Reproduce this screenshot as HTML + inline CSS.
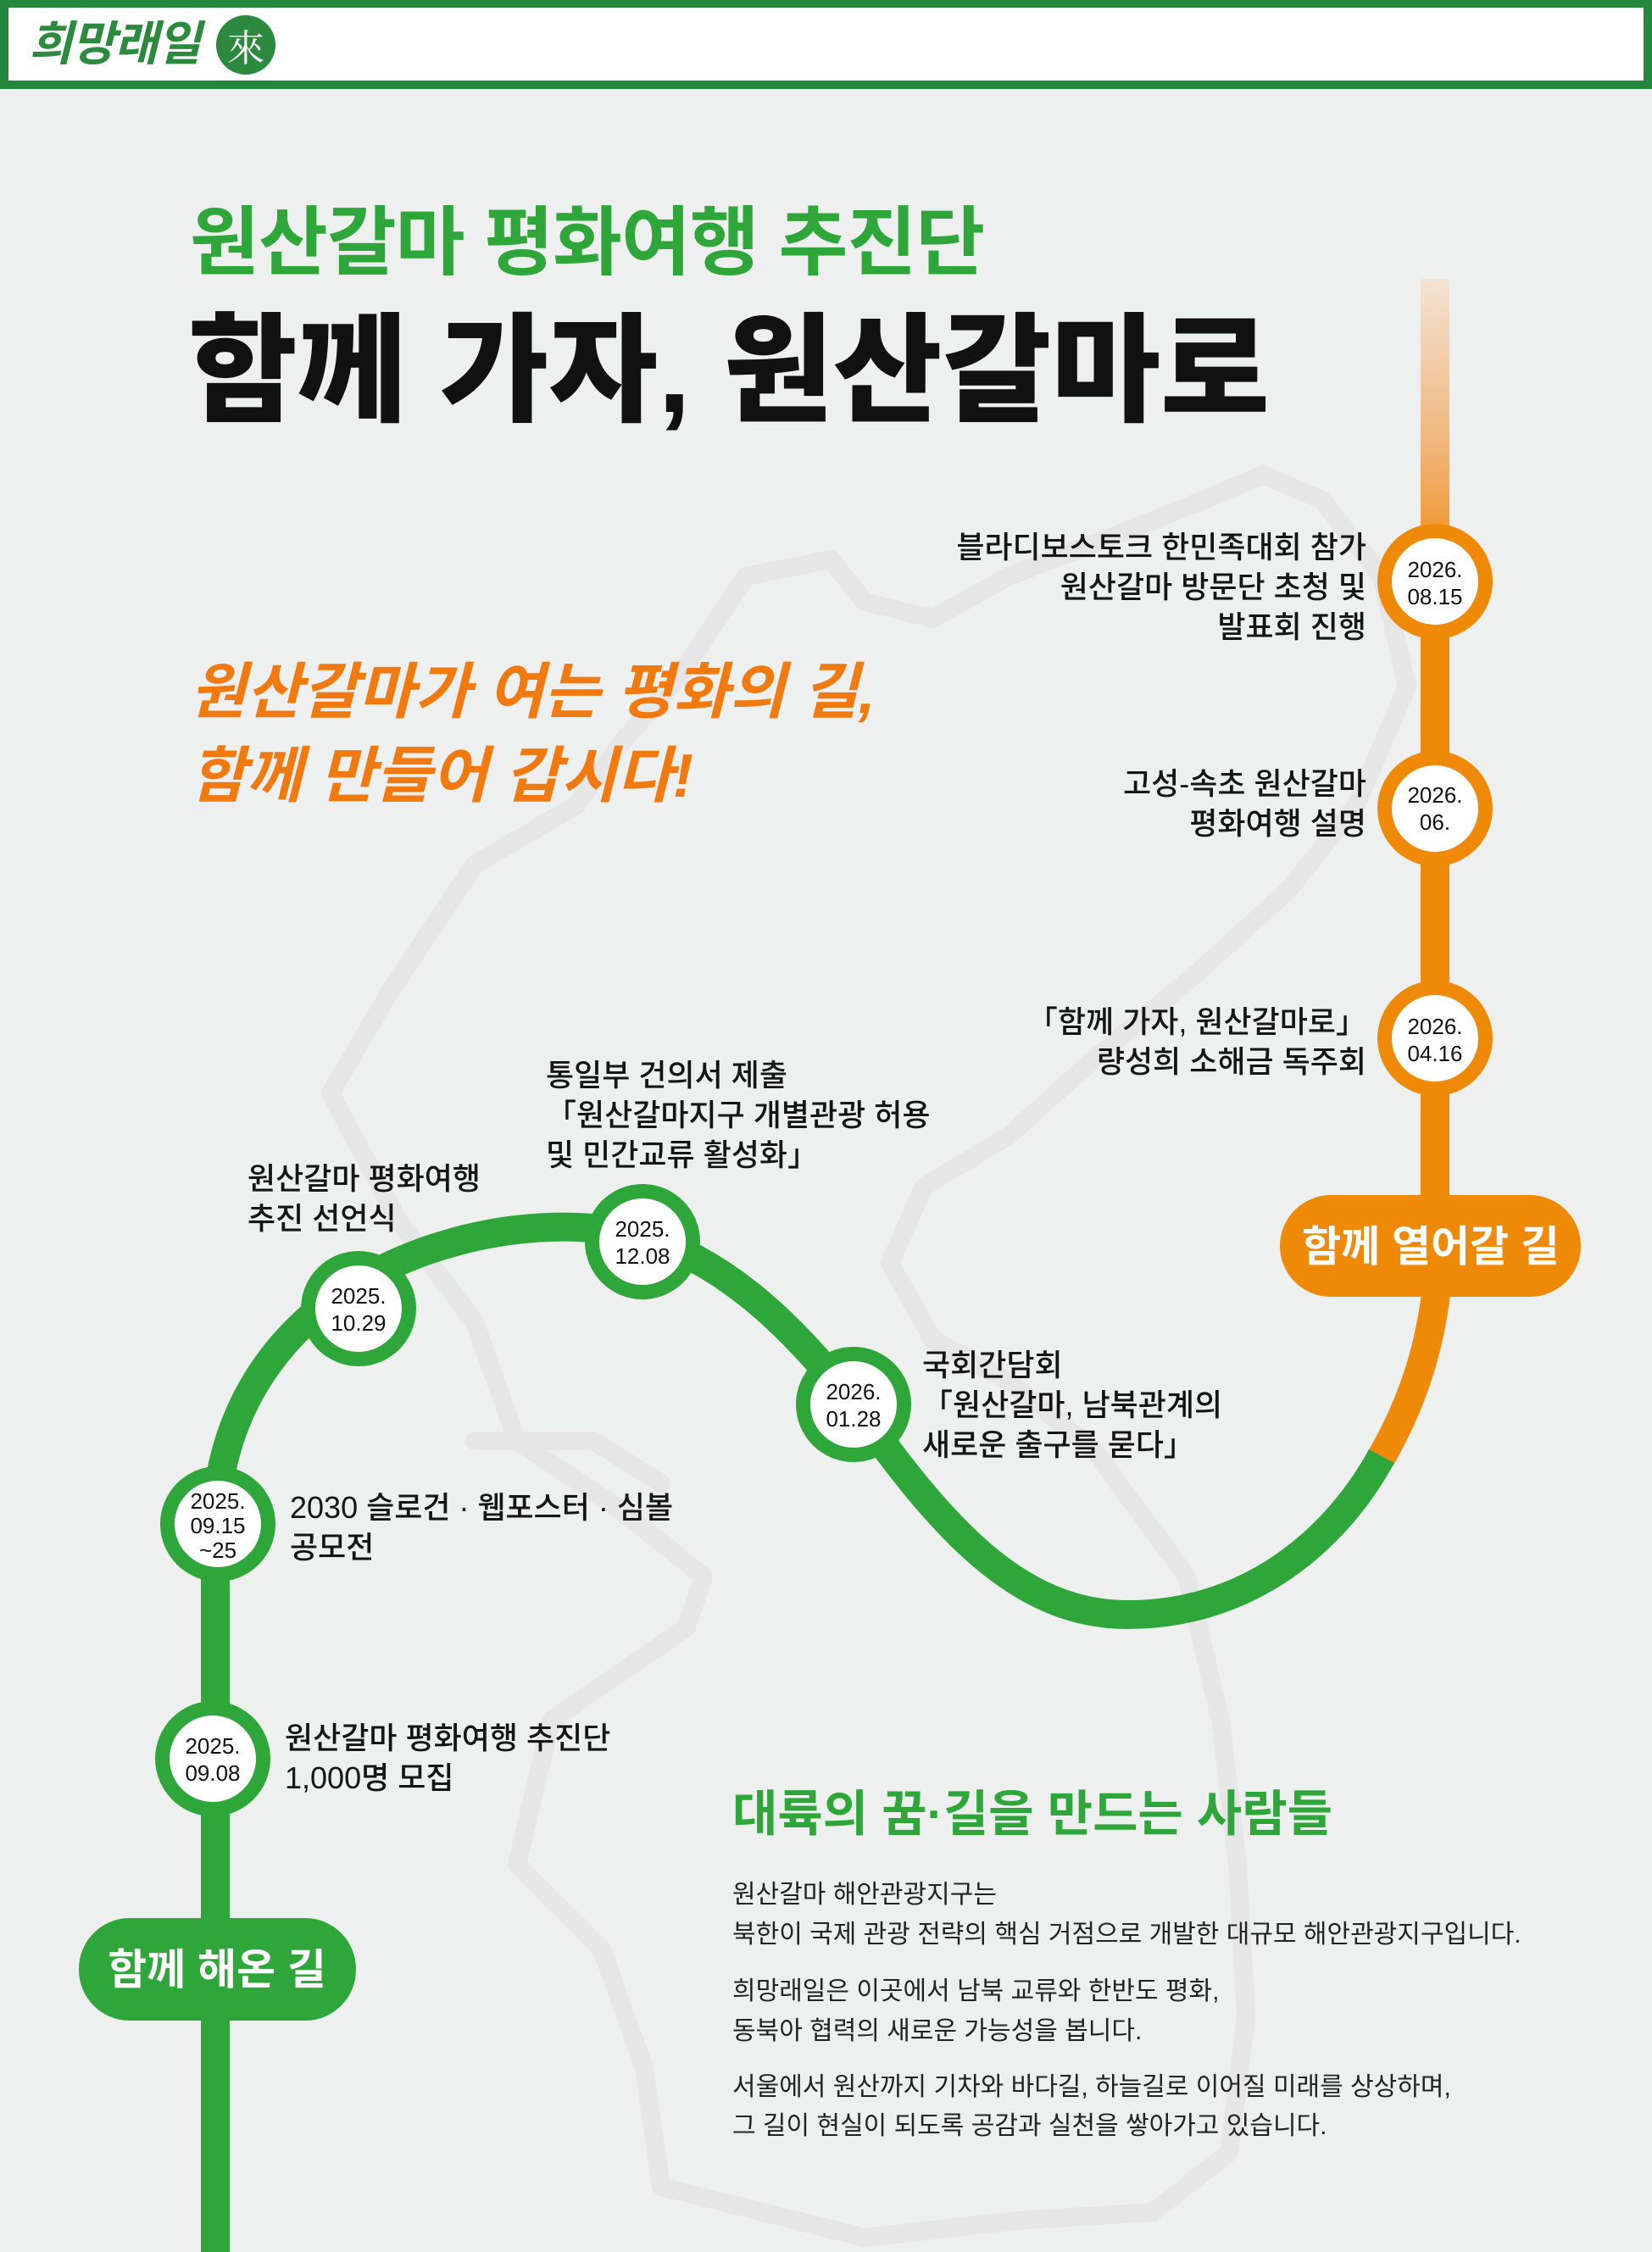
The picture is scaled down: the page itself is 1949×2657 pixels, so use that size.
<!DOCTYPE html>
<html><head><meta charset="utf-8">
<style>
*{margin:0;padding:0;box-sizing:border-box}
body{width:1949px;height:2657px;background:#eef0ef;position:relative;overflow:hidden;font-family:"Liberation Sans","Noto Sans CJK KR",sans-serif;color:#111}
.abs{position:absolute;white-space:nowrap}
.lab{font-size:36px;line-height:47px;font-weight:500;color:#151515}
.r{text-align:right}
</style></head><body>
<svg class="abs" style="left:0;top:0" width="1949" height="2657" viewBox="0 0 1949 2657">
<defs>
<linearGradient id="fade" x1="0" y1="0" x2="0" y2="1">
<stop offset="0" stop-color="#f3e3d4"/>
<stop offset="0.55" stop-color="#f0b57a"/>
<stop offset="1" stop-color="#ef8a09"/>
</linearGradient>
</defs>
<g fill="none" stroke="#e5e6e5" stroke-width="22" stroke-linejoin="round" stroke-linecap="round">
<path d="M390 1290 L460 1170 L560 1020 L680 950 L730 880 L800 800 L880 680 L980 660 L1020 710 L1100 730 L1190 680 L1320 630 L1420 590 L1490 560 L1560 590 L1630 680 L1660 810 L1600 950 L1520 1050 L1410 1150 L1290 1250 L1190 1340 L1090 1400 L1050 1490 L1100 1580 L1190 1630 L1290 1710 L1400 1860 L1440 2030 L1460 2200 L1470 2380 L1450 2540 L1360 2610 L1200 2620 L1020 2640 L860 2600 L780 2580 L760 2440 L710 2300 L610 2200 L650 2030 L810 1920 L830 1860 L730 1780 L610 1700 L560 1560 L470 1440 Z"/>
<path d="M560 1700 L700 1700 L780 1750"/>
</g>
<rect x="1676" y="329" width="34" height="360" fill="url(#fade)"/>
<line x1="1693" y1="680" x2="1693" y2="1480" stroke="#ef8a09" stroke-width="34"/>
<path d="M1697 1500 C1690 1580 1670 1650 1628 1722" fill="none" stroke="#ef8a09" stroke-width="34"/>
<path d="M254 2660 L254 1810 C254 1640 360 1520 520 1470 C600 1445 690 1440 760 1460 C860 1490 940 1570 1010 1660 C1110 1800 1200 1905 1330 1905 C1480 1905 1580 1810 1630 1718" fill="none" stroke="#2ea639" stroke-width="34"/>
<rect x="1510" y="1410" width="355" height="120" rx="60" fill="#ef8a09"/>
<text x="1688" y="1488" text-anchor="middle" font-size="50" font-weight="700" fill="#fff" font-family="Liberation Sans, Noto Sans CJK KR, sans-serif">함께 열어갈 길</text>
<rect x="93" y="2263" width="327" height="121" rx="60" fill="#2ea639"/>
<text x="256" y="2341" text-anchor="middle" font-size="50" font-weight="700" fill="#fff" font-family="Liberation Sans, Noto Sans CJK KR, sans-serif">함께 해온 길</text>
<g font-family="Liberation Sans, Noto Sans CJK KR, sans-serif" font-size="26" fill="#111" text-anchor="middle">
<g><circle cx="1693" cy="686" r="68" fill="#ef8a09"/><circle cx="1693" cy="686" r="51" fill="#fff"/><text x="1693" y="681">2026.</text><text x="1693" y="713">08.15</text></g>
<g><circle cx="1693" cy="954" r="68" fill="#ef8a09"/><circle cx="1693" cy="954" r="51" fill="#fff"/><text x="1693" y="947">2026.</text><text x="1693" y="979">06.</text></g>
<g><circle cx="1693" cy="1225" r="68" fill="#ef8a09"/><circle cx="1693" cy="1225" r="51" fill="#fff"/><text x="1693" y="1220">2026.</text><text x="1693" y="1252">04.16</text></g>
<g><circle cx="1007" cy="1657" r="68" fill="#2ea639"/><circle cx="1007" cy="1657" r="51" fill="#fff"/><text x="1007" y="1651">2026.</text><text x="1007" y="1683">01.28</text></g>
<g><circle cx="758" cy="1465" r="68" fill="#2ea639"/><circle cx="758" cy="1465" r="51" fill="#fff"/><text x="758" y="1459">2025.</text><text x="758" y="1491">12.08</text></g>
<g><circle cx="423" cy="1544" r="68" fill="#2ea639"/><circle cx="423" cy="1544" r="51" fill="#fff"/><text x="423" y="1538">2025.</text><text x="423" y="1570">10.29</text></g>
<g><circle cx="257" cy="1798" r="68" fill="#2ea639"/><circle cx="257" cy="1798" r="51" fill="#fff"/><text x="257" y="1780">2025.</text><text x="257" y="1809">09.15</text><text x="257" y="1838">~25</text></g>
<g><circle cx="251" cy="2075" r="68" fill="#2ea639"/><circle cx="251" cy="2075" r="51" fill="#fff"/><text x="251" y="2069">2025.</text><text x="251" y="2101">09.08</text></g>
</g>
</svg>

<div class="abs" style="left:0;top:0;width:1949px;height:105px;background:#fff;border:10px solid #23883e;border-top-width:9px"></div>
<div class="abs" style="left:34px;top:20px;font-size:56px;font-weight:700;font-style:italic;color:#2b8a3e;letter-spacing:-1px;line-height:64px">희망래일</div>
<div class="abs" style="left:255px;top:18px;width:70px;height:70px;border-radius:50%;background:#2b8a3e;color:#fff;font-size:44px;line-height:70px;text-align:center;font-family:'Noto Serif CJK SC',serif">來</div>

<div class="abs" style="left:224px;top:233px;font-size:89px;line-height:106px;font-weight:700;color:#2ea639;letter-spacing:-1px">원산갈마 평화여행 추진단</div>
<div class="abs" style="left:222px;top:354px;font-size:140px;line-height:168px;font-weight:900;color:#111;letter-spacing:0px">함께 가자, 원산갈마로</div>
<div class="abs" style="left:224px;top:768px;font-size:72px;line-height:99px;font-weight:700;font-style:italic;color:#f07a10;letter-spacing:0px">원산갈마가 여는 평화의 길,<br>함께 만들어 갑시다!</div>

<div class="abs lab r" style="right:337px;top:622px">블라디보스토크 한민족대회 참가<br>원산갈마 방문단 초청 및<br>발표회 진행</div>
<div class="abs lab r" style="right:337px;top:901px">고성-속초 원산갈마<br>평화여행 설명</div>
<div class="abs lab r" style="right:337px;top:1182px">「함께 가자, 원산갈마로」<br>량성희 소해금 독주회</div>

<div class="abs lab" style="left:644px;top:1245px">통일부 건의서 제출<br>「원산갈마지구 개별관광 허용<br>및 민간교류 활성화」</div>
<div class="abs lab" style="left:292px;top:1367px">원산갈마 평화여행<br>추진 선언식</div>
<div class="abs lab" style="left:1088px;top:1587px">국회간담회<br>「원산갈마, 남북관계의<br>새로운 출구를 묻다」</div>
<div class="abs lab" style="left:342px;top:1755px">2030 슬로건 · 웹포스터 · 심볼<br>공모전</div>
<div class="abs lab" style="left:336px;top:2027px">원산갈마 평화여행 추진단<br>1,000명 모집</div>

<div class="abs" style="left:864px;top:2105px;font-size:58px;line-height:72px;font-weight:700;color:#2ea639">대륙의 꿈·길을 만드는 사람들</div>
<div class="abs" style="left:864px;top:2212px;font-size:30px;line-height:47px;color:#222">원산갈마 해안관광지구는<br>북한이 국제 관광 전략의 핵심 거점으로 개발한 대규모 해안관광지구입니다.</div>
<div class="abs" style="left:864px;top:2326px;font-size:30px;line-height:47px;color:#222">희망래일은 이곳에서 남북 교류와 한반도 평화,<br>동북아 협력의 새로운 가능성을 봅니다.</div>
<div class="abs" style="left:864px;top:2440px;font-size:30px;line-height:46px;color:#222">서울에서 원산까지 기차와 바다길, 하늘길로 이어질 미래를 상상하며,<br>그 길이 현실이 되도록 공감과 실천을 쌓아가고 있습니다.</div>
</body></html>
